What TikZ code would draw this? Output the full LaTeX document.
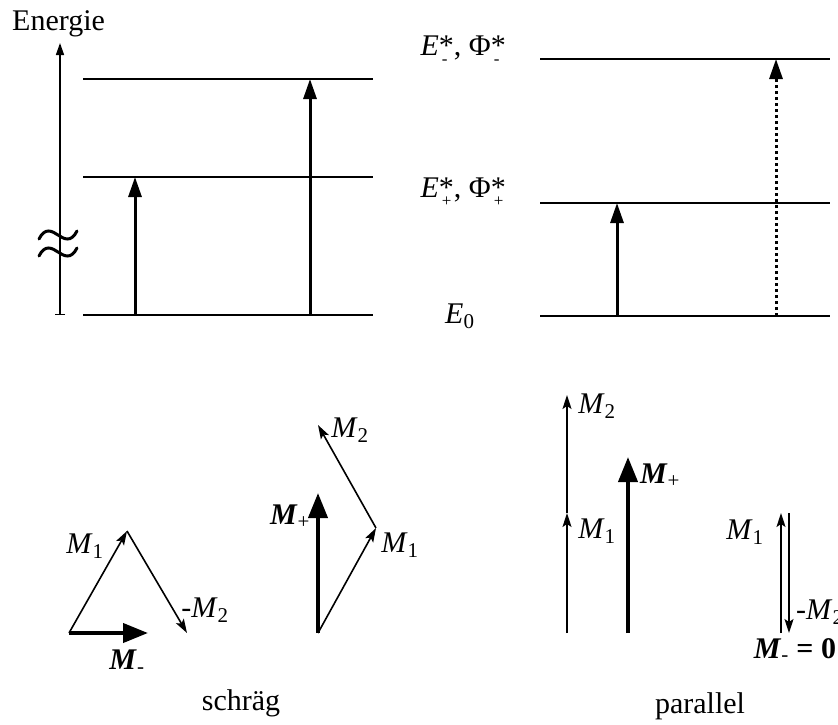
\documentclass[tikz,border=0pt]{standalone}
\usepackage{fontspec}
\setmainfont{Liberation Serif}
\usetikzlibrary{arrows.meta}
\newcommand\Msub[1]{\textit{M}\textsubscript{#1}}
\newcommand\Bsub[1]{\textbf{\textit{M}}\textsubscript{#1}}
\newcommand\StarSub[1]{\makebox[0pt][l]{\hspace{0.1em}\raisebox{-0.32em}{\fontsize{17}{17}\selectfont #1}}*}
\begin{document}
\begin{tikzpicture}[x=1pt,y=-1pt,
  every node/.style={inner sep=0pt,font=\fontsize{30}{34}\selectfont},
  level/.style={line width=2pt},
  trans/.style={line width=3pt,-{Triangle[length=20pt,width=13pt]}},
  dottrans/.style={trans,dash pattern=on 3pt off 3pt},
  axisarrow/.style={line width=1.5pt,{Bar[width=10pt,line width=1.2pt]}-{Triangle[length=12pt,width=8pt]}},
  thinvec/.style={line width=1.6pt,-{Stealth[length=14pt,width=9pt,inset=3pt]}},
  thickvec/.style={line width=4pt,-{Triangle[length=25pt,width=19pt]}},
  wave/.style={line width=3pt,line cap=round}]
\useasboundingbox (0,0) rectangle (838,724);

% ---------- energy diagram left ----------
\node[anchor=base west] (energie) at (12,30) {Energie};
\coordinate (ax0) at (60,315);
\coordinate (ax1) at (60,43);
\draw[axisarrow] (ax0) -- (ax1);
\draw[wave] (39,239) .. controls (45,227) and (52,231) .. (58,235) .. controls (64,239) and (71,243) .. (77,231);
\draw[wave] (39,256) .. controls (45,244) and (52,248) .. (58,252) .. controls (64,256) and (71,260) .. (77,248);

\coordinate (la0) at (83,315);  \coordinate (lb0) at (373,315);
\coordinate (la1) at (83,177);  \coordinate (lb1) at (373,177);
\coordinate (la2) at (83,79);   \coordinate (lb2) at (373,79);
\draw[level] (la0) -- (lb0);
\draw[level] (la1) -- (lb1);
\draw[level] (la2) -- (lb2);
\coordinate (t1s) at (135,315); \coordinate (t1e) at (135,177);
\coordinate (t2s) at (310,315); \coordinate (t2e) at (310,79);
\draw[trans] (t1s) -- (t1e);
\draw[trans] (t2s) -- (t2e);

% ---------- energy diagram right ----------
\node[anchor=base east] (eminus) at (506,55) {\textit{E}\StarSub{-}, Φ\StarSub{-}};
\node[anchor=base east] (eplus) at (506,197) {\textit{E}\StarSub{+}, Φ\StarSub{+}};
\node[anchor=base west] (ezero) at (445,323) {\textit{E}\textsubscript{0}};
\coordinate (ra0) at (540,316); \coordinate (rb0) at (830,316);
\coordinate (ra1) at (540,203); \coordinate (rb1) at (830,203);
\coordinate (ra2) at (540,59);  \coordinate (rb2) at (830,59);
\draw[level] (ra0) -- (rb0);
\draw[level] (ra1) -- (rb1);
\draw[level] (ra2) -- (rb2);
\coordinate (t3s) at (617,316); \coordinate (t3e) at (617,203);
\coordinate (t4s) at (776,316); \coordinate (t4e) at (776,59);
\draw[trans] (t3s) -- (t3e);
\draw[dottrans] (t4s) -- (t4e);

% ---------- schraeg, M- ----------
\coordinate (A) at (69,633);
\coordinate (B) at (127,531);
\coordinate (C) at (187,633);
\coordinate (D) at (148,633);
\draw[thinvec] (A) -- (B);
\draw[thinvec] (B) -- (C);
\draw[thickvec] (A) -- (D);
\node (lm1a) at (85,546) {\Msub{1}};
\node (lm2a) at (205,610) {-\Msub{2}};
\node (lmma) at (127,662) {\Bsub{-}};

% ---------- schraeg, M+ ----------
\coordinate (P) at (318,633);
\coordinate (Q) at (376,528);
\coordinate (R) at (318,425);
\coordinate (S) at (318,493);
\draw[thinvec] (P) -- (Q);
\draw[thinvec] (Q) -- (R);
\draw[thickvec] (P) -- (S);
\node (lm2b) at (350,430) {\Msub{2}};
\node (lmpb) at (290,517) {\Bsub{+}};
\node (lm1b) at (400,545) {\Msub{1}};

\node[anchor=base] (schraeg) at (241,710) {schräg};

% ---------- parallel ----------
\coordinate (U0) at (567,633);
\coordinate (U1) at (567,513);
\coordinate (U2) at (567,395);
\draw[thinvec] (U0) -- (U1);
\draw[thinvec] (U1) -- (U2);
\coordinate (V0) at (628,633);
\coordinate (V1) at (628,457);
\draw[thickvec] (V0) -- (V1);
\node (lm2c) at (597,406) {\Msub{2}};
\node (lm1c) at (597,531) {\Msub{1}};
\node (lmpc) at (660,476) {\Bsub{+}};

\coordinate (W0) at (781,633);
\coordinate (W1) at (781,513);
\coordinate (X0) at (789,513);
\coordinate (X1) at (789,633);
\draw[thinvec] (W0) -- (W1);
\draw[thinvec] (X0) -- (X1);
\node (lm1d) at (745,532) {\Msub{1}};
\node[anchor=west] (lm2d) at (796,612) {-\Msub{2}};
\node (lmzero) at (795,650) {\Bsub{-} \textbf{= 0}};

\node[anchor=base] (parallel) at (700,713) {parallel};
\end{tikzpicture}
\end{document}
